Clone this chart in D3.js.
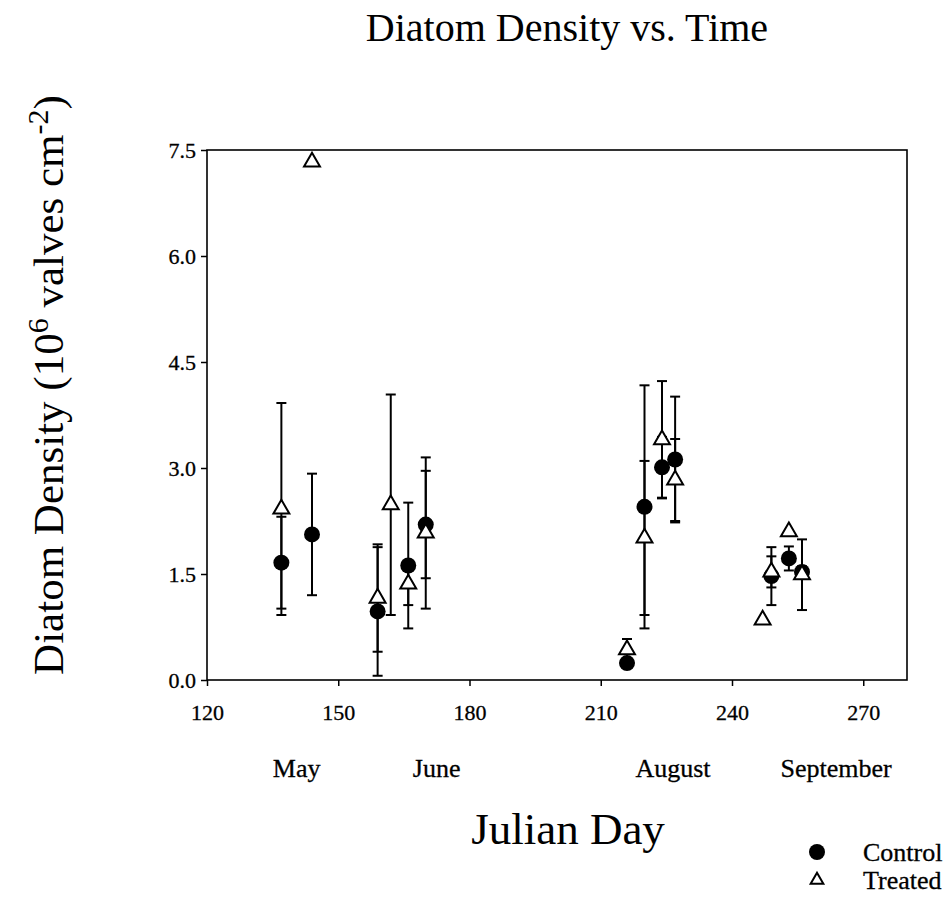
<!DOCTYPE html>
<html>
<head>
<meta charset="utf-8">
<script src="https://cdn.jsdelivr.net/npm/d3@7"></script>
<style>
  body { margin: 0; background: #fff; }
  text { font-family: "Liberation Serif", "Times New Roman", serif; fill: #000; }
</style>
</head>
<body>
<svg id="chart" width="951" height="902"></svg>
<script>
// Diatom density vs. time

let controlDay = [137, 144, 159, 166, 170, 216, 220, 224, 227, 249, 253, 256]
let controlMean = [1.66, 2.06, 0.97, 1.62, 2.20, 0.24, 2.45, 3.01, 3.12, 1.47, 1.72, 1.53]
let controlErr = [0.65, 0.86, 0.91, 0.89, 0.76, 0, 1.72, 0.43, 0.89, 0.41, 0.17, 0.08]

let treatedDay = [137, 144, 159, 162, 166, 170, 216, 220, 224, 227, 247, 249, 253, 256]
let treatedMean = [2.42, 7.33, 1.16, 2.48, 1.36, 2.08, 0.43, 2.01, 3.40, 2.83, 0.85, 1.53, 2.10, 1.49]
let treatedErr = [1.50, 0, 0.76, 1.56, 0.30, 1.07, 0.15, 1.09, 0.83, 0.58, 0, 0.22, 0, 0.50]

let xTicks = [120, 150, 180, 210, 240, 270]
let yTicks = [0, 1.5, 3.0, 4.5, 6.0, 7.5]
let monthNames = ['May', 'June', 'August', 'September']
let monthDays = [140.5, 172.5, 226.5, 263.8]

let svg = d3.select('#chart')

let x = d3.scaleLinear().domain([120, 280]).range([207, 907])
let y = d3.scaleLinear().domain([0, 7.5]).range([680, 150])

let control = controlDay.map((d, i) => ({day: d, v: controlMean[i], e: controlErr[i]}))
let treated = treatedDay.map((d, i) => ({day: d, v: treatedMean[i], e: treatedErr[i]}))

// axes
svg.append('g')
  .attr('transform', 'translate(207,0)')
  .call(d3.axisLeft(y).tickValues(yTicks).tickSize(6).tickPadding(5).tickFormat(d3.format('.1f')))
svg.append('g')
  .attr('transform', 'translate(0,680)')
  .call(d3.axisBottom(x).tickValues(xTicks).tickSize(6).tickPadding(18).tickFormat(d3.format('d')))

svg.selectAll('.domain').remove()
svg.selectAll('.tick line').style('stroke', '#000').style('stroke-width', 1.5)
svg.selectAll('.tick text')
  .style('font-family', '"Liberation Serif", serif')
  .style('font-size', '22px')
  .style('fill', '#000')
  .style('stroke', '#000')
  .style('stroke-width', 0.3)

// frame
svg.append('rect')
  .attr('x', x(120))
  .attr('y', y(7.5))
  .attr('width', x(280) - x(120))
  .attr('height', y(0) - y(7.5))
  .style('fill', 'none')
  .style('stroke', '#000')
  .style('stroke-width', 1.6)

// error bars
let bars = control.concat(treated).filter(d => d.e > 0)
let eb = svg.append('g').attr('id', 'errorbars')
  .style('stroke', '#000').style('stroke-width', 2)

eb.selectAll('line.v')
  .data(bars)
  .join('line')
  .attr('class', 'v')
  .attr('x1', d => x(d.day))
  .attr('x2', d => x(d.day))
  .attr('y1', d => y(d.v - d.e))
  .attr('y2', d => y(d.v + d.e))

eb.selectAll('line.cap')
  .data(bars.flatMap(d => [d.v - d.e, d.v + d.e].map(v => ({day: d.day, v: v}))))
  .join('line')
  .attr('class', 'cap')
  .attr('x1', d => x(d.day) - 5)
  .attr('x2', d => x(d.day) + 5)
  .attr('y1', d => y(d.v))
  .attr('y2', d => y(d.v))

// control points
svg.append('g').attr('id', 'control')
  .selectAll('circle')
  .data(control)
  .join('circle')
  .attr('cx', d => x(d.day))
  .attr('cy', d => y(d.v))
  .attr('r', 8)
  .style('fill', '#000')

// treated points
let tri = d3.symbol(d3.symbolTriangle, 110)
svg.append('g').attr('id', 'treated')
  .selectAll('path')
  .data(treated)
  .join('path')
  .attr('d', tri)
  .attr('transform', d => `translate(${x(d.day)},${y(d.v)})`)
  .style('fill', '#fff')
  .style('stroke', '#000')
  .style('stroke-width', 2)

// month labels
svg.append('g').attr('id', 'months')
  .selectAll('text')
  .data(monthNames)
  .join('text')
  .attr('x', (d, i) => x(monthDays[i]))
  .attr('y', 777)
  .attr('text-anchor', 'middle')
  .style('font-size', '26px')
  .style('stroke', '#000')
  .style('stroke-width', 0.3)
  .text(d => d)

// title
svg.append('text')
  .attr('x', 567)
  .attr('y', 41)
  .attr('text-anchor', 'middle')
  .style('font-size', '40px')
  .text('Diatom Density vs. Time')

// x label
svg.append('text')
  .attr('x', 568)
  .attr('y', 844)
  .attr('text-anchor', 'middle')
  .style('font-size', '45px')
  .text('Julian Day')

// y label
let yl = svg.append('text')
  .attr('transform', 'translate(63,385) rotate(-90)')
  .attr('text-anchor', 'middle')
  .style('font-size', '43px')
yl.append('tspan').text('Diatom Density (10')
yl.append('tspan').attr('dy', -15).style('font-size', '30px').text('6')
yl.append('tspan').attr('dy', 15).text(' valves cm')
yl.append('tspan').attr('dy', -15).style('font-size', '30px').text('-2')
yl.append('tspan').attr('dy', 15).text(')')

// legend
let legend = svg.append('g').attr('id', 'legend')
legend.append('circle')
  .attr('cx', 817).attr('cy', 852).attr('r', 8)
  .style('fill', '#000')
legend.append('path')
  .attr('d', d3.symbol(d3.symbolTriangle, 70))
  .attr('transform', 'translate(817,880)')
  .style('fill', '#fff').style('stroke', '#000').style('stroke-width', 2)
legend.selectAll('text')
  .data(['Control', 'Treated'])
  .join('text')
  .attr('x', 863)
  .attr('y', (d, i) => 861 + i * 28)
  .style('font-size', '26px')
  .style('stroke', '#000')
  .style('stroke-width', 0.3)
  .text(d => d)
</script>
</body>
</html>
